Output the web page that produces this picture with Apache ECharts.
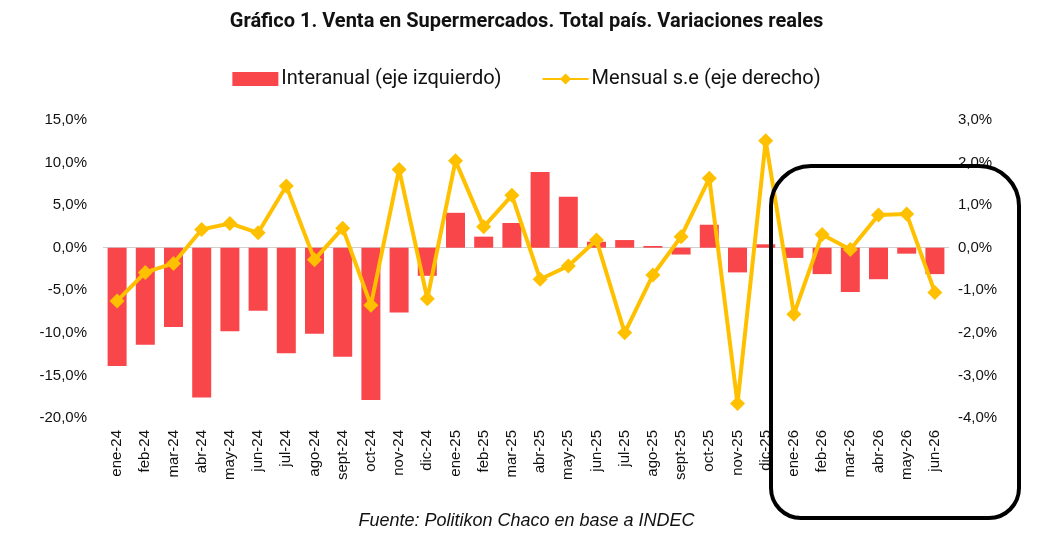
<!DOCTYPE html>
<html>
<head>
<meta charset="utf-8">
<script src="https://cdn.jsdelivr.net/npm/echarts@6/dist/echarts.min.js"></script>
<style>
  html, body { margin: 0; padding: 0; background: #fff; }
  #main { width: 1053px; height: 555px; }
</style>
</head>
<body>
<div id="main"></div>
<script>
// meses
var categories = [
  'ene-24', 'feb-24', 'mar-24', 'abr-24', 'may-24', 'jun-24', 'jul-24', 'ago-24', 'sept-24', 'oct-24', 'nov-24', 'dic-24',
  'ene-25', 'feb-25', 'mar-25', 'abr-25', 'may-25', 'jun-25', 'jul-25', 'ago-25', 'sept-25', 'oct-25', 'nov-25', 'dic-25',
  'ene-26', 'feb-26', 'mar-26', 'abr-26', 'may-26', 'jun-26'
];
// interanual, eje izquierdo (%)
var interanual = [
  -13.9, -11.4, -9.3, -17.6, -9.8, -7.4, -12.4, -10.1, -12.8, -17.9, -7.6, -3.3,
  4.1, 1.3, 2.9, 8.9, 6.0, 0.7, 0.9, 0.2, -0.8, 2.7, -2.9, 0.4,
  -1.2, -3.1, -5.2, -3.7, -0.7, -3.1
];
// mensual s.e, eje derecho (%)
var mensual = [
  -1.25, -0.58, -0.37, 0.43, 0.57, 0.35, 1.45, -0.28, 0.46, -1.35, 1.84, -1.2,
  2.04, 0.49, 1.23, -0.74, -0.43, 0.18, -2.0, -0.64, 0.26, 1.63, -3.66, 2.51,
  -1.56, 0.31, -0.04, 0.77, 0.79, -1.05
];
var leftTicks = { min: -20, max: 15, interval: 5 };
var rightTicks = { min: -4, max: 3, interval: 1 };

var chart = echarts.init(document.getElementById('main'));

function pct(v) {
  return v.toFixed(1).replace('.', ',') + '%';
}

var sans = "'Liberation Sans', Arial, sans-serif";

var option = {
  backgroundColor: '#fff',
  animation: false,
  title: {
    text: 'Gráfico 1. Venta en Supermercados. Total país. Variaciones reales',
    left: 'center',
    top: 7,
    textStyle: { fontFamily: 'Roboto, sans-serif', fontWeight: 'bold', fontSize: 20, color: '#111' }
  },
  legend: {
    top: 64,
    left: 'center',
    itemGap: 40,
    itemWidth: 46,
    itemHeight: 14,
    textStyle: { fontFamily: 'Roboto, sans-serif', fontSize: 20, color: '#111', padding: [0, 0, 0, -2] },
    data: [
      { name: 'Interanual (eje izquierdo)', icon: 'rect' },
      { name: 'Mensual s.e (eje derecho)' }
    ]
  },
  grid: { left: 103, right: 104, top: 120, bottom: 137 },
  xAxis: {
    type: 'category',
    data: categories,
    axisLine: { show: false, onZero: false },
    axisTick: { show: false },
    axisLabel: {
      rotate: 90,
      interval: 0,
      margin: 12,
      fontFamily: sans,
      fontSize: 15,
      color: '#111'
    }
  },
  yAxis: [
    {
      type: 'value',
      min: leftTicks.min,
      max: leftTicks.max,
      interval: leftTicks.interval,
      splitLine: { show: false },
      axisLine: { show: false },
      axisTick: { show: false },
      axisLabel: {
        formatter: pct,
        margin: 16,
        fontFamily: sans,
        fontSize: 15,
        color: '#111'
      }
    },
    {
      type: 'value',
      min: rightTicks.min,
      max: rightTicks.max,
      interval: rightTicks.interval,
      splitLine: { show: false },
      axisLine: { show: false },
      axisTick: { show: false },
      axisLabel: {
        formatter: pct,
        margin: 9,
        fontFamily: sans,
        fontSize: 15,
        color: '#111'
      }
    }
  ],
  series: [
    {
      name: 'Interanual (eje izquierdo)',
      type: 'bar',
      yAxisIndex: 0,
      barWidth: 19,
      itemStyle: { color: '#F9464B' },
      data: interanual,
      markLine: {
        silent: true,
        symbol: 'none',
        label: { show: false },
        lineStyle: { color: '#d0d0d0', type: 'solid', width: 1 },
        data: [{ yAxis: 0 }],
        z: 1
      }
    },
    {
      name: 'Mensual s.e (eje derecho)',
      type: 'line',
      yAxisIndex: 1,
      symbol: 'diamond',
      symbolSize: 15,
      lineStyle: { color: '#FFC000', width: 4 },
      itemStyle: { color: '#FFC000' },
      data: mensual,
      z: 3
    }
  ],
  graphic: [
    {
      type: 'text',
      left: 'center',
      top: 512,
      style: {
        text: 'Fuente: Politikon Chaco en base a INDEC',
        font: "italic 18px 'Liberation Sans', Arial, sans-serif",
        fill: '#111'
      }
    },
    {
      type: 'rect',
      shape: { x: 771, y: 166, width: 248, height: 352, r: [40, 40, 30, 30] },
      style: { fill: 'none', stroke: '#000', lineWidth: 4 },
      z: 100
    }
  ]
};

chart.setOption(option);
</script>
</body>
</html>
